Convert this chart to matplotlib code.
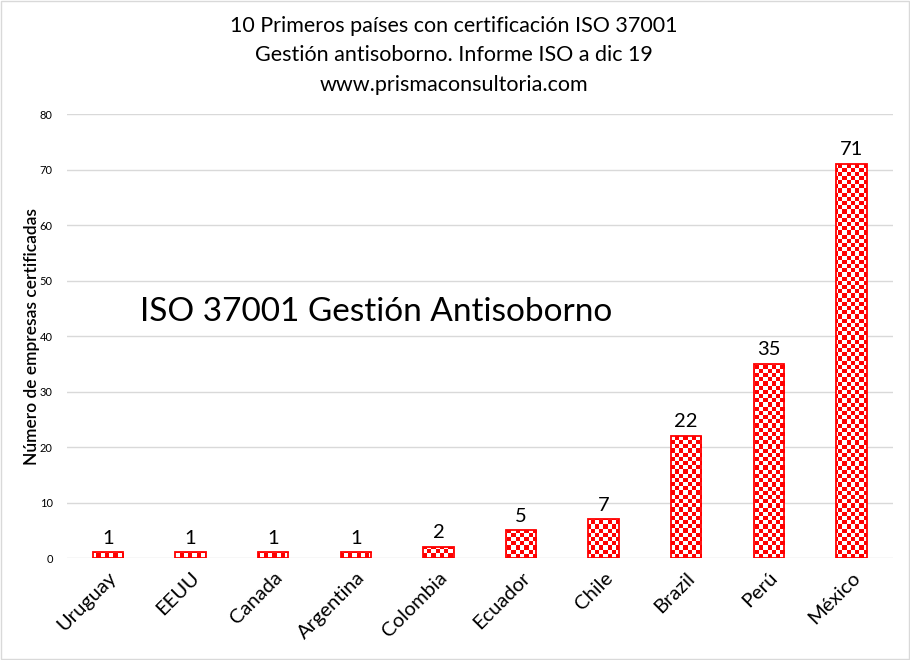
import matplotlib.pyplot as plt
import numpy as np

plt.rcParams['font.family'] = ['Lato', 'DejaVu Sans']

paises = ['Uruguay', 'EEUU', 'Canada', 'Argentina', 'Colombia',
          'Ecuador', 'Chile', 'Brazil', 'Perú', 'México']
empresas = [1, 1, 1, 1, 2, 5, 7, 22, 35, 71]

fig = plt.figure(figsize=(9.1, 6.6), dpi=100)
ax = fig.add_axes([0.0733, 0.1545, 0.9077, 0.6727])

x = np.arange(len(paises))
bars = ax.bar(x, empresas, width=0.37, color='none', edgecolor='red',
              linewidth=1.3, zorder=3)

ax.set_xlim(-0.5, len(paises) - 0.5)
ax.set_ylim(0, 80)
xlim, ylim = ax.get_xlim(), ax.get_ylim()

# checkerboard fill, clipped to every bar
nx, ny = 197, 106
ii, jj = np.indices((ny, nx))
checker = np.ones((ny, nx, 3))
mask = (ii + jj) % 2 == 0
checker[mask] = [1.0, 0.0, 0.0]
for b in bars:
    im = ax.imshow(checker, extent=[xlim[0], xlim[1], ylim[0], ylim[1]],
                   aspect='auto', interpolation='nearest', zorder=2)
    im.set_clip_path(b)
ax.set_xlim(xlim)
ax.set_ylim(ylim)

ax.bar_label(bars, padding=4, fontsize=14.5)

ax.set_yticks(range(0, 81, 10))
ax.tick_params(axis='y', labelsize=8, length=0, pad=10)
ax.set_xticks(x)
ax.set_xticklabels(paises, rotation=45, ha='right', rotation_mode='anchor',
                   fontsize=14.5)
ax.tick_params(axis='x', length=0, pad=8)
ax.grid(axis='y', color='#d9d9d9', linewidth=1)
ax.set_axisbelow(True)
for s in ax.spines.values():
    s.set_visible(False)

ax.set_ylabel('Número de empresas certificadas', fontsize=12.5,
              fontweight='semibold', labelpad=0)

fig.text(0.499, 0.916,
         '10 Primeros países con certificación ISO 37001\n'
         'Gestión antisoborno. Informe ISO a dic 19\n'
         'www.prismaconsultoria.com',
         ha='center', va='center', fontsize=15.5, linespacing=1.6)

fig.text(140 / 910, 1 - 312 / 660, 'ISO 37001 Gestión Antisoborno',
         ha='left', va='center', fontsize=24)

fig.patches.append(plt.Rectangle((0.001, 0.001), 0.998, 0.998,
                                 transform=fig.transFigure, fill=False,
                                 edgecolor='#d9d9d9', linewidth=1))

fig.savefig('out.png', dpi=100)
